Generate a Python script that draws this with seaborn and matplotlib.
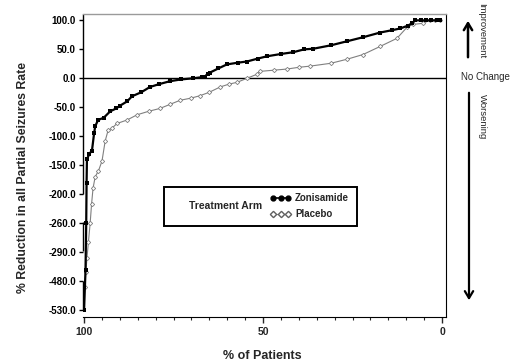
import numpy as np
import pandas as pd
import matplotlib
matplotlib.use("Agg")
import matplotlib.pyplot as plt
from matplotlib.lines import Line2D
from matplotlib.patches import Rectangle
import seaborn as sns

# ---- data ----
zon_pct = [100, 99.6, 99.4, 99.3, 99.2, 98.5, 97.8, 97.2, 96.9, 96.1, 94.5, 92.7, 91.0, 89.9,
           88.0, 86.6, 84.0, 81.6, 79.0, 76.0, 73.0, 69.6, 67.0, 66.2, 65.5, 64.8, 62.5, 60.1,
           57.0, 54.5, 51.5, 48.9, 45.0, 41.6, 38.5, 36.0, 31.0, 26.5, 22.0, 17.3, 14.0, 11.7,
           9.5, 8.4, 7.5, 6.0, 4.5, 3.0, 1.5, 0.6]
zon_val = [-530, -410, -260, -180, -140, -130, -125, -95, -83, -72, -68, -57, -52, -47,
           -40, -31, -24, -15, -10, -5, -2, 0, 2, 3, 8, 10, 17, 24,
           27, 29, 34, 38, 42, 45, 50, 51, 57, 64, 71, 79, 83, 86,
           91, 95, 100, 100, 100, 100, 100, 100]

pla_pct = [99.8, 99.5, 99.2, 98.8, 98.3, 97.9, 97.5, 96.9, 96.0, 95.0, 94.1, 93.3, 92.2, 90.8,
           88.0, 85.2, 82.0, 78.8, 76.0, 73.2, 70.0, 67.6, 65.0, 62.0, 59.5, 57.3, 54.5, 51.7,
           50.8, 47.0, 43.3, 40.0, 36.9, 31.0, 26.5, 22.1, 17.3, 12.6, 9.8, 8.1, 5.3, 3.5, 2.0, 0.6]
pla_val = [-490, -420, -330, -280, -260, -220, -190, -170, -160, -143, -108, -90, -86, -78,
           -72, -63, -57, -52, -45, -38, -34, -30, -24, -15, -10, -7, 0, 7,
           12, 14, 16, 19, 21, 26, 33, 41, 55, 69, 88, 93, 95, 100, 100, 100]

ytick_vals = [100, 50, 0, -50, -100, -150, -200, -260, -290, -480, -530]
ytick_labels = ["100.0", "50.0", "0.0", "-50.0", "-100.0", "-150.0", "-200.0",
                "-260.0", "-290.0", "-480.0", "-530.0"]
xtick_vals = [100, 50, 0]
arms = ["Zonisamide", "Placebo"]

# broken y scale: ticks equally spaced
ytick_pos = [100, 50, 0, -50, -100, -150, -200, -250, -300, -350, -400]


def to_pos(v):
    return np.interp(v, ytick_vals[::-1], ytick_pos[::-1])


df_z = pd.DataFrame({"pct": zon_pct, "pos": to_pos(np.array(zon_val, float)), "arm": arms[0]})
df_p = pd.DataFrame({"pct": pla_pct, "pos": to_pos(np.array(pla_val, float)), "arm": arms[1]})

sns.set_style("white")
plt.rcParams["font.family"] = ["Liberation Sans", "DejaVu Sans"]

fig = plt.figure(figsize=(5.17, 3.63), dpi=100)
W, H = 517, 363
ax = fig.add_axes([83 / W, 1 - 317 / H, (446 - 83) / W, (317 - 14) / H])

sns.lineplot(data=df_p, x="pct", y="pos", ax=ax, color="#808080", lw=0.8,
             marker="D", markersize=2.2, markerfacecolor="white", markeredgecolor="#808080",
             markeredgewidth=0.6, estimator=None, sort=False, legend=False)
sns.lineplot(data=df_z, x="pct", y="pos", ax=ax, color="black", lw=1.6,
             marker="s", markersize=2.8, markeredgewidth=0, estimator=None, sort=False,
             legend=False)

ax.axhline(0, color="black", lw=1.0, zorder=1)

ax.set_xlim(100.3, -1.1)
ax.set_ylim(-412, 111)

# spines
ax.spines["left"].set_visible(False)
ax.spines["top"].set_color("#9a9a9a")
ax.spines["top"].set_linewidth(1.0)
ax.spines["right"].set_color("black")
ax.spines["bottom"].set_color("black")
for seg in [(111, -200), (-248, -298), (-349, -400)]:
    ax.plot([0, 0], seg, transform=ax.get_yaxis_transform(), color="black", lw=1.0,
            clip_on=False, solid_capstyle="butt")

ax.set_yticks(ytick_pos)
ax.set_yticklabels(ytick_labels)
ax.set_xticks(xtick_vals)
ax.set_xticklabels([str(v) for v in xtick_vals])
ax.set_xticks(np.arange(0, 101, 5), minor=True)
ax.tick_params(axis="y", which="both", direction="out", length=3, width=1, pad=2,
               labelsize=7, left=True, colors="black")
ax.tick_params(axis="x", which="major", direction="out", length=4, width=1, pad=3,
               labelsize=7.5, bottom=True)
ax.tick_params(axis="x", which="minor", direction="out", length=2.5, width=0.8, bottom=True)
for lab in ax.get_yticklabels() + ax.get_xticklabels():
    lab.set_fontweight("bold")

ax.set_xlabel("% of Patients", fontsize=9, fontweight="bold")
ax.set_ylabel("% Reduction in all Partial Seizures Rate", fontsize=8.8, fontweight="bold")
ax.xaxis.set_label_coords(0.493, -0.108)
ax.yaxis.set_label_coords(-0.148, 0.459)

# legend box
ax.add_patch(Rectangle((0.223, 0.300), 0.532, 0.129, transform=ax.transAxes,
                       fill=False, edgecolor="black", lw=1.4, zorder=5))
ax.text(0.394, 0.366, "Treatment Arm", transform=ax.transAxes, ha="center", va="center",
        fontsize=7.5, fontweight="bold")
handles = [Line2D([], [], color="black", lw=1.2, marker="o", markersize=3.5),
           Line2D([], [], color="#808080", lw=0.8, marker="D", markersize=3.2,
                  markerfacecolor="white", markeredgecolor="#606060")]
leg = ax.legend(handles, arms, loc="upper left", bbox_to_anchor=(0.515, 0.409),
                frameon=False, numpoints=3, handlelength=2.2, handletextpad=0.4,
                borderpad=0, borderaxespad=0, labelspacing=0.65,
                prop={"size": 7, "weight": "bold"})

# right-side annotations
ax.annotate("", xy=(468 / W, 1 - 18 / H), xytext=(468 / W, 1 - 60 / H),
            xycoords="figure fraction", textcoords="figure fraction",
            arrowprops=dict(arrowstyle="->,head_length=0.5,head_width=0.3", lw=1.8, color="black"))
ax.annotate("", xy=(469 / W, 1 - 303 / H), xytext=(469 / W, 1 - 90 / H),
            xycoords="figure fraction", textcoords="figure fraction",
            arrowprops=dict(arrowstyle="->,head_length=0.5,head_width=0.3", lw=1.6, color="black"))
fig.text(482 / W, 1 - 31 / H, "Improvement", rotation=270, ha="center", va="center", fontsize=6.8)
fig.text(485 / W, 1 - 77 / H, "No Change", ha="center", va="center", fontsize=7)
fig.text(482 / W, 1 - 117 / H, "Worsening", rotation=270, ha="center", va="center", fontsize=6.8)

fig.savefig("out.png", dpi=100, facecolor="white")
